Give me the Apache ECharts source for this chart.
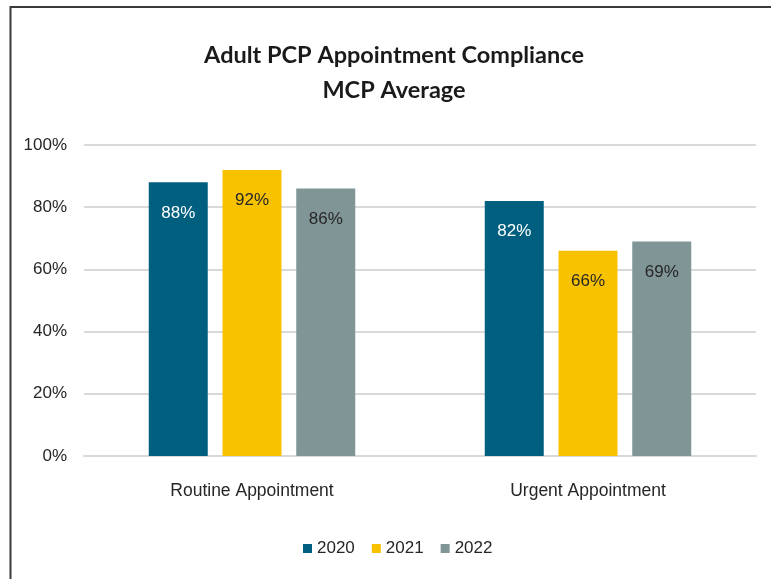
<!DOCTYPE html>
<html>
<head>
<meta charset="utf-8">
<script src="https://cdn.jsdelivr.net/npm/echarts@6/dist/echarts.min.js"></script>
<style>
  html, body { margin: 0; padding: 0; background: #fff; }
  #chart { width: 771px; height: 579px; }
</style>
</head>
<body>
<div id="chart"></div>
<script>
// data
const categories = ['Routine Appointment', 'Urgent Appointment']
const years = ['2020', '2021', '2022']
const values2020 = [88, 82]
const values2021 = [92, 66]
const values2022 = [86, 69]
const yTicks = [0, 20, 40, 60, 80, 100]

const colors = ['#005f7f', '#f8c200', '#809596']
const labelColors = ['#ffffff', '#262626', '#262626']
const FONT = '"Liberation Sans", sans-serif'
const TITLE_FONT = 'Lato, "Liberation Sans", sans-serif'

const chart = echarts.init(document.getElementById('chart'), null, { renderer: 'canvas' })

const seriesData = [values2020, values2021, values2022]

chart.setOption({
  backgroundColor: '#fff',
  animation: false,
  textStyle: { fontFamily: FONT },
  graphic: [
    // chart frame (runs off the right and bottom of the picture)
    { type: 'rect', shape: { x: 10.5, y: 7, width: 820, height: 640 },
      style: { fill: 'none', stroke: '#3a3a3a', lineWidth: 2 }, silent: true },
    { type: 'text', x: 394, y: 38,
      style: { text: 'Adult PCP Appointment Compliance\nMCP Average', textAlign: 'center',
        font: 'bold 23.5px ' + TITLE_FONT, fill: '#1a1a1a', lineHeight: 35 } },
  ],
  grid: { left: 84, right: 15, top: 145, bottom: 123 },
  legend: {
    data: years, left: 303, top: 540, padding: 0,
    itemWidth: 9, itemHeight: 9, itemGap: 17, icon: 'rect',
    textStyle: { fontFamily: FONT, fontSize: 17, color: '#262626', padding: [0, 0, 0, 0] },
  },
  xAxis: {
    type: 'category', data: categories,
    axisLine: { lineStyle: { color: '#d9d9d9', width: 2 } },
    axisTick: { show: false },
    axisLabel: { color: '#262626', fontSize: 17.5, margin: 26, fontFamily: FONT },
  },
  yAxis: {
    type: 'value', min: yTicks[0], max: yTicks[yTicks.length - 1], interval: 20,
    axisLine: { show: false }, axisTick: { show: false },
    axisLabel: { color: '#262626', fontSize: 17, margin: 17, fontFamily: FONT, formatter: '{value}%' },
    splitLine: { lineStyle: { color: '#d9d9d9', width: 2 } },
  },
  series: years.map((y, i) => ({
    name: y, type: 'bar', data: seriesData[i],
    barWidth: 59, barGap: '25%',
    itemStyle: { color: colors[i] },
    label: {
      show: true, position: 'insideTop', distance: 22,
      formatter: '{c}%', color: labelColors[i], fontSize: 17, fontFamily: FONT,
    },
  })),
})
</script>
</body>
</html>
